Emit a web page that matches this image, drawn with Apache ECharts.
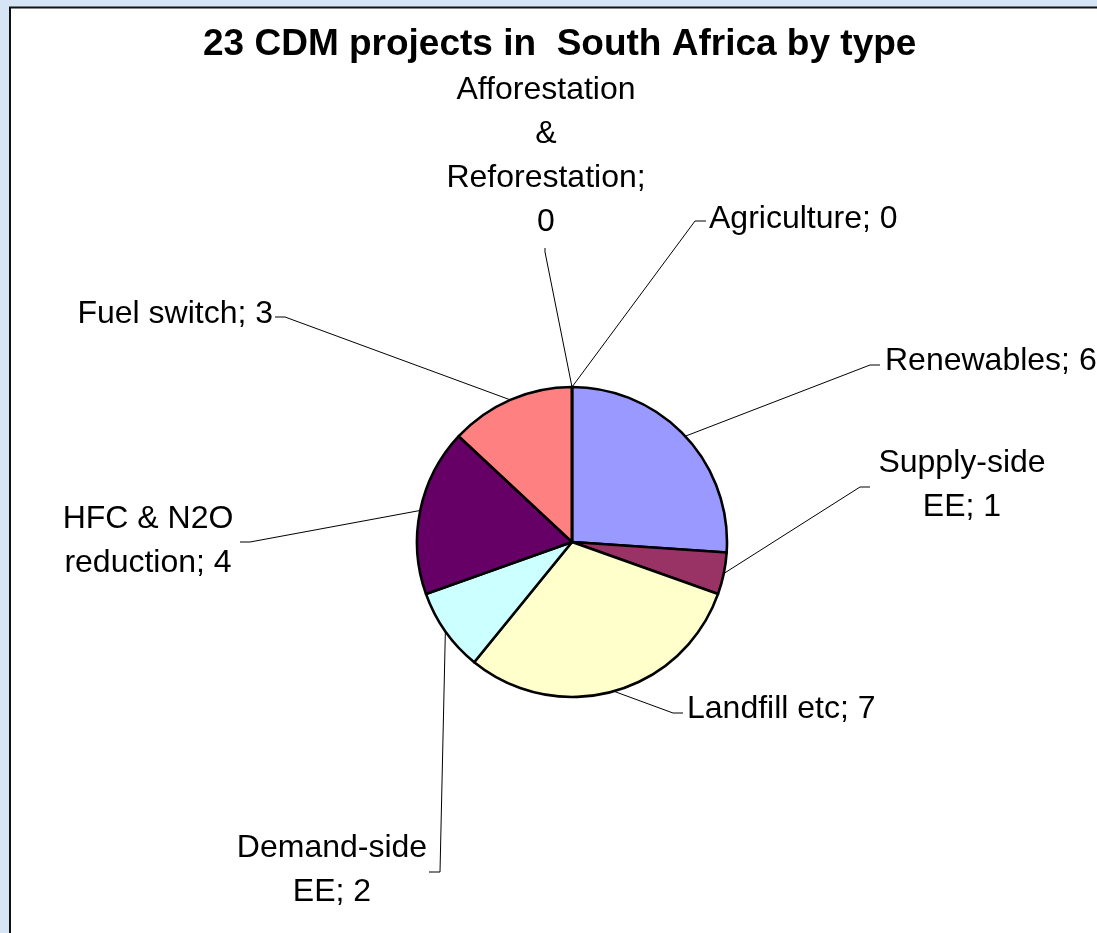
<!DOCTYPE html>
<html>
<head>
<meta charset="utf-8">
<script src="https://cdn.jsdelivr.net/npm/echarts@6/dist/echarts.min.js"></script>
<style>
  html, body { margin: 0; padding: 0; background: #d5e5f5; }
  #chart { width: 1097px; height: 933px; }
</style>
</head>
<body>
<div id="chart"></div>
<script>
// ---- Data ----
const chartTitle = '23 CDM projects in  South Africa by type';
// names as displayed (line breaks as in the reference labels)
const categories = [
  'Agriculture',
  'Renewables',
  'Supply-side\nEE',
  'Landfill etc',
  'Demand-side\nEE',
  'HFC & N2O\nreduction',
  'Fuel switch',
  'Afforestation\n&\nReforestation'
];
const valueSeparators = [' ', ' ', ' ', ' ', ' ', ' ', ' ', '\n'];
const projectCounts = [0, 6, 1, 7, 2, 4, 3, 0];
const sliceColors = ['#FFFFFF', '#9999FF', '#993366', '#FFFFCC', '#CCFFFF', '#660066', '#FF8080', '#FFFFFF'];

// ---- Label placement (layout only) ----
const labelPlacement = [
  { x: 709, y: 219, align: 'left',   line: [[695, 221], [706, 221]] },
  { x: 885, y: 361, align: 'left',   line: [[870, 365], [880, 365]] },
  { x: 962, y: 485, align: 'center', line: [[860, 487], [870, 487]] },
  { x: 687, y: 709, align: 'left',   line: [[673, 713], [683, 713]] },
  { x: 332, y: 870, align: 'center', line: [[440, 872], [429, 872]] },
  { x: 148, y: 541, align: 'center', line: [[250, 542], [240, 542]] },
  { x: 273, y: 314, align: 'right',  line: [[285, 317], [275, 317]] },
  { x: 546, y: 156, align: 'center', line: [[545, 252], [545, 248]] }
];

const FONT = '"Liberation Sans", Arial, Helvetica, sans-serif';
const chart = echarts.init(document.getElementById('chart'), null, { renderer: 'canvas' });

const option = {
  backgroundColor: '#d5e5f5',
  animation: false,
  graphic: [{
    type: 'rect',
    z: -10,
    silent: true,
    shape: { x: 10, y: 7.5, width: 1200, height: 1000 },
    style: { fill: '#ffffff', stroke: '#111111', lineWidth: 2 }
  }],
  title: {
    text: chartTitle,
    left: 203,
    top: 26,
    padding: 0,
    textStyle: {
      fontFamily: FONT,
      fontSize: 37,
      fontWeight: 'bold',
      color: '#000000',
      lineHeight: 37
    }
  },
  series: [{
    type: 'pie',
    center: [572, 542],
    radius: 155,
    startAngle: 90,
    clockwise: true,
    avoidLabelOverlap: false,
    stillShowZeroSum: true,
    minShowLabelAngle: -1,
    data: categories.map((name, i) => ({
      name: name,
      value: projectCounts[i],
      itemStyle: { color: sliceColors[i] }
    })),
    itemStyle: { borderColor: '#000000', borderWidth: 2.6 },
    label: {
      show: true,
      position: 'outside',
      fontFamily: FONT,
      fontSize: 32,
      lineHeight: 44,
      color: '#000000',
      formatter: (p) => p.name + ';' + valueSeparators[p.dataIndex] + p.value
    },
    labelLine: {
      show: true,
      smooth: false,
      lineStyle: { color: '#000000', width: 1 }
    },
    emphasis: { disabled: true },
    labelLayout: function (params) {
      const pl = labelPlacement[params.dataIndex];
      const start = params.labelLinePoints ? params.labelLinePoints[0] : pl.line[0];
      return {
        x: pl.x,
        y: pl.y,
        align: pl.align,
        verticalAlign: 'middle',
        hideOverlap: false,
        labelLinePoints: [start, pl.line[0], pl.line[1]]
      };
    }
  }]
};
chart.setOption(option);
</script>
</body>
</html>
